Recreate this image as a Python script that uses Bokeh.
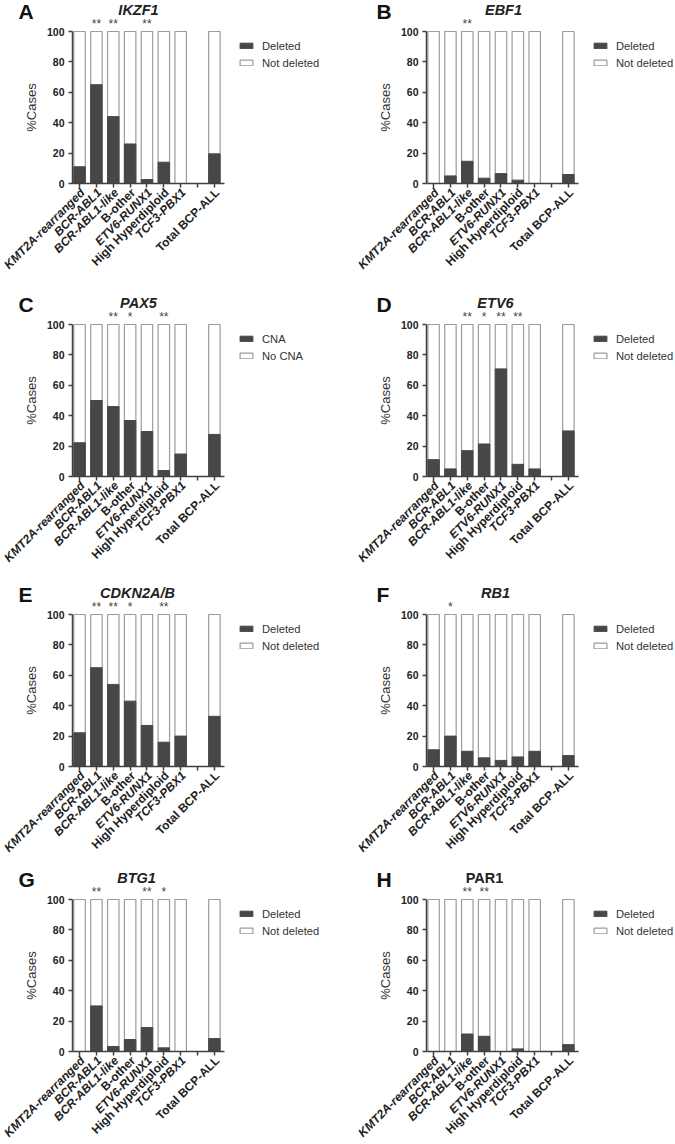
import math
from bokeh.plotting import figure
from bokeh.models import Range1d, LinearAxis, FixedTicker, Label, Legend, LegendItem
from bokeh.layouts import column, row
from bokeh.embed import file_html
from bokeh.resources import INLINE

# ---------------- data ----------------
groups = ["KMT2A-rearranged", "BCR-ABL1", "BCR-ABL1-like", "B-other",
          "ETV6-RUNX1", "High Hyperdiploid", "TCF3-PBX1", "Total BCP-ALL"]
group_italic = [True, True, True, False, True, False, True, False]

ikzf1 = [11, 65, 44, 26, 2.6, 14, 0, 19.5]
ebf1 = [0, 5, 14.6, 3.5, 6.5, 2.2, 0, 5.9]
pax5 = [22.2, 50, 46, 36.8, 29.6, 3.9, 14.8, 27.7]
etv6 = [11.1, 5, 17, 21.4, 70.8, 8, 5, 30]
cdkn2ab = [22.2, 65, 54, 43, 27, 16, 20, 33]
rb1 = [11, 20, 10, 5.7, 4, 6.3, 10, 7.2]
btg1 = [0, 30, 3.3, 7.9, 15.8, 2.4, 0, 8.5]
par1 = [0, 0, 11.5, 10, 0, 1.7, 0, 4.5]

ikzf1_sig = ["", "**", "**", "", "**", "", "", ""]
ebf1_sig = ["", "", "**", "", "", "", "", ""]
pax5_sig = ["", "", "**", "*", "", "**", "", ""]
etv6_sig = ["", "", "**", "*", "**", "**", "", ""]
cdkn2ab_sig = ["", "**", "**", "*", "", "**", "", ""]
rb1_sig = ["", "*", "", "", "", "", "", ""]
btg1_sig = ["", "**", "", "", "**", "*", "", ""]
par1_sig = ["", "", "**", "**", "", "", "", ""]

y_ticks = [0, 20, 40, 60, 80, 100]
legend_del = ["Deleted", "Not deleted"]
legend_cna = ["CNA", "No CNA"]

FONT = "Liberation Sans"
DARK = "#474747"
EDGE = "#9c9c9c"
AXIS = "#404040"

# slot of each group on the x scale: a gap is left before the total column
slots = [i if i < 7 else i + 1 for i in range(len(groups))]
n_slots = slots[-1] + 1
X0, X1 = -0.42, n_slots - 1 + 0.6      # extent of the bar area (x axis)

# ---------------- layout (pixels) ----------------
PPX = 16.85        # pixels per slot
PPY = 1.52         # pixels per percentage point
FRAME_TOP = 31     # px from figure top to the 100% line


def panel(letter, gene, gene_italic, vals, sigs, leg_labels,
          W, H, axis_px, letter_dx, title_dx):
    xs = X0 - axis_px / PPX
    xe = xs + W / PPX
    ye = 100 + FRAME_TOP / PPY
    ys = ye - H / PPY
    p = figure(width=W, height=H, min_border=0,
               x_range=Range1d(xs, xe), y_range=Range1d(ys, ye),
               x_axis_type=None, y_axis_type=None,
               output_backend="svg", toolbar_location=None)
    p.outline_line_color = None
    p.xgrid.visible = False
    p.ygrid.visible = False
    p.background_fill_color = "white"

    yax = LinearAxis(ticker=FixedTicker(ticks=y_ticks), axis_label="%Cases",
                     fixed_location=X0, bounds=(0, 100))
    yax.axis_line_color = AXIS
    yax.axis_line_width = 1.5
    yax.major_tick_line_color = AXIS
    yax.major_tick_line_width = 1.5
    yax.major_tick_out = 4
    yax.major_tick_in = 0
    yax.minor_tick_line_color = None
    yax.major_label_text_font = FONT
    yax.major_label_text_font_style = "bold"
    yax.major_label_text_font_size = "10.5px"
    yax.major_label_text_color = "#222222"
    yax.major_label_standoff = 4
    yax.axis_label_text_font = FONT
    yax.axis_label_text_font_style = "normal"
    yax.axis_label_text_font_size = "13px"
    yax.axis_label_text_color = "#333333"
    yax.axis_label_standoff = 5
    p.add_layout(yax, "left")

    xax = LinearAxis(ticker=FixedTicker(ticks=list(range(n_slots))),
                     fixed_location=0, bounds=(X0, X1))
    xax.major_label_overrides = {i: "" for i in range(n_slots)}
    xax.axis_line_color = AXIS
    xax.axis_line_width = 1.5
    xax.major_tick_line_color = AXIS
    xax.major_tick_line_width = 1.5
    xax.major_tick_out = 4
    xax.major_tick_in = 0
    xax.minor_tick_line_color = None
    p.add_layout(xax, "below")

    full = [100] * len(vals)
    white_r = p.vbar(x=slots, top=full, width=0.68, fill_color="white",
                     line_color=EDGE, line_width=1.2)
    dark_r = p.vbar(x=slots, top=vals, width=0.68, fill_color=DARK,
                    line_color=DARK, line_width=1)

    # legend: bottom-left corner in screen px from the frame's bottom-left
    leg_left = axis_px + 152 + 14
    leg_bottom = H - (FRAME_TOP + 8 + 30)
    legend = Legend(items=[LegendItem(label=leg_labels[0], renderers=[dark_r]),
                           LegendItem(label=leg_labels[1], renderers=[white_r])],
                    location=(leg_left, leg_bottom), orientation="vertical")
    legend.border_line_color = None
    legend.background_fill_alpha = 0
    legend.padding = 0
    legend.margin = 0
    legend.spacing = 4
    legend.glyph_width = 16
    legend.glyph_height = 7
    legend.label_height = 13
    legend.label_standoff = 8
    legend.label_text_font = FONT
    legend.label_text_font_size = "11.2px"
    legend.label_text_color = "#333333"
    p.add_layout(legend, "center")

    for g, it, s in zip(groups, group_italic, slots):
        p.add_layout(Label(x=s, y=0, text=g, angle=math.pi / 4,
                           text_align="right", text_baseline="middle",
                           x_offset=3, y_offset=-7,
                           text_font=FONT,
                           text_font_style="bold italic" if it else "bold",
                           text_font_size="12px", text_color="#222222"))

    for sg, s in zip(sigs, slots):
        if sg:
            p.add_layout(Label(x=s, y=100, text=sg, text_align="center",
                               text_baseline="bottom", y_offset=1,
                               text_font=FONT, text_font_size="12px",
                               text_color="#444444"))

    xc = (X0 + X1) / 2
    p.add_layout(Label(x=xc, y=100, text=gene, text_align="center",
                       text_baseline="middle", y_offset=22, x_offset=title_dx,
                       text_font=FONT,
                       text_font_style="bold italic" if gene_italic else "bold",
                       text_font_size="14.5px", text_color="#222222"))
    p.add_layout(Label(x=X0, y=100, text=letter, text_align="left",
                       text_baseline="middle", x_offset=letter_dx, y_offset=20,
                       text_font=FONT, text_font_style="bold",
                       text_font_size="21px", text_color="#111111"))
    return p


row_h = [293, 290, 285, 276]
WL, WR = 337, 337
AL, AR = 72, 89

pA = panel("A", "IKZF1", True, ikzf1, ikzf1_sig, legend_del, WL, row_h[0], AL, -54, -10)
pB = panel("B", "EBF1", True, ebf1, ebf1_sig, legend_del, WR, row_h[0], AR, -50, 1)
pC = panel("C", "PAX5", True, pax5, pax5_sig, legend_cna, WL, row_h[1], AL, -54, -10)
pD = panel("D", "ETV6", True, etv6, etv6_sig, legend_del, WR, row_h[1], AR, -50, -7)
pE = panel("E", "CDKN2A/B", True, cdkn2ab, cdkn2ab_sig, legend_del, WL, row_h[2], AL, -54, -11)
pF = panel("F", "RB1", True, rb1, rb1_sig, legend_del, WR, row_h[2], AR, -50, -7)
pG = panel("G", "BTG1", True, btg1, btg1_sig, legend_del, WL, row_h[3], AL, -54, -12)
pH = panel("H", "PAR1", False, par1, par1_sig, legend_del, WR, row_h[3], AR, -50, -18)

layout = column(row(pA, pB), row(pC, pD), row(pE, pF), row(pG, pH))

open("out.html", "w").write(file_html(layout, INLINE))
